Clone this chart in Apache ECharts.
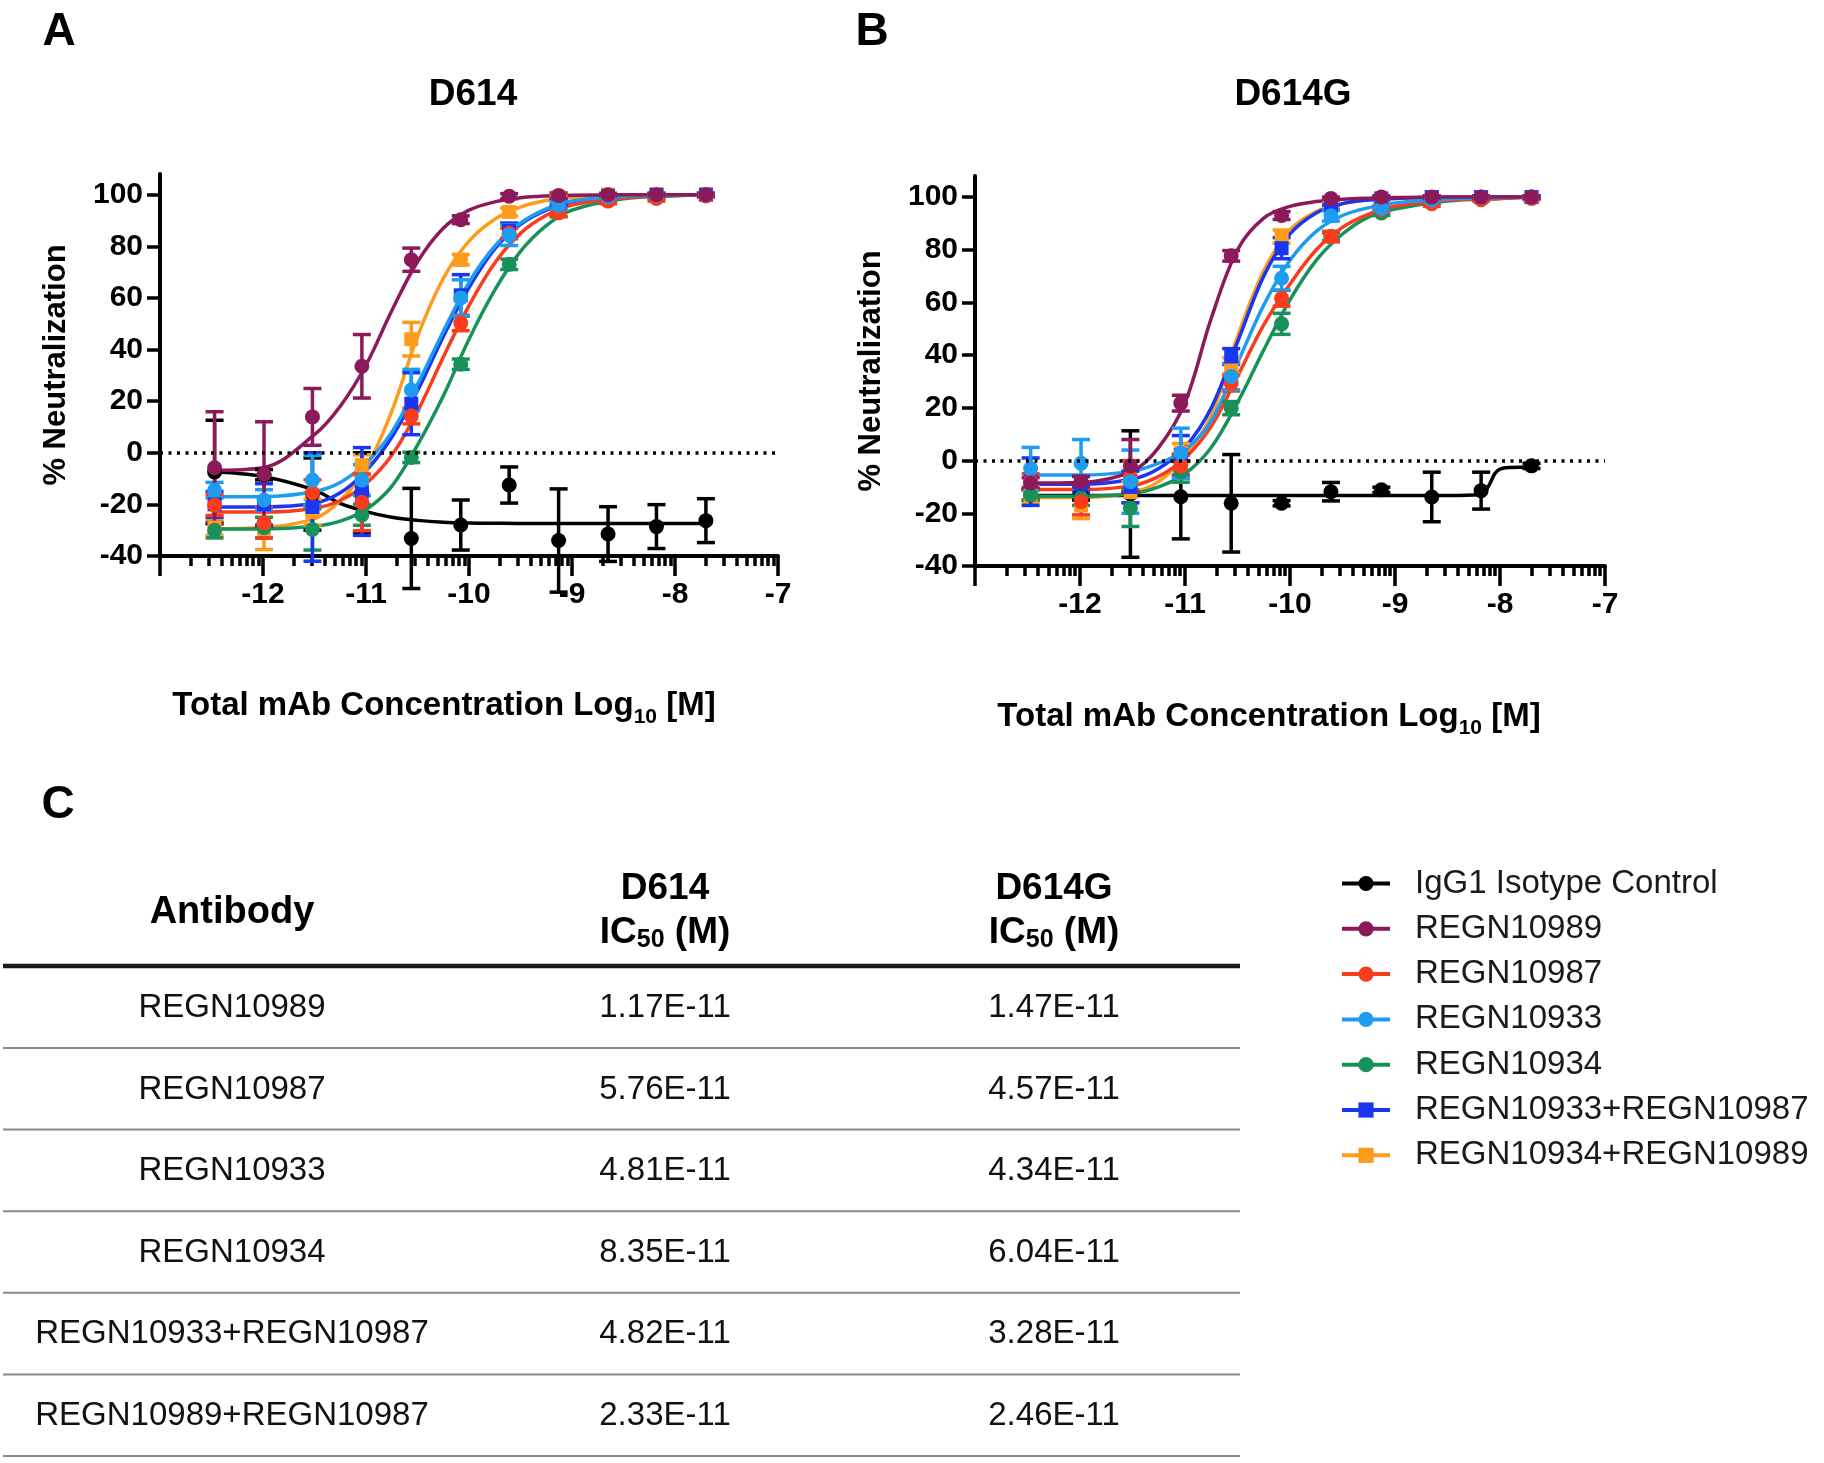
<!DOCTYPE html>
<html><head><meta charset="utf-8">
<script src="https://cdn.jsdelivr.net/npm/echarts@6/dist/echarts.min.js"></script>
<style>html,body{margin:0;padding:0;background:#fff}#c{width:1824px;height:1463px}</style>
</head><body><div id="c"></div>
<script>
const FONT = '"Liberation Sans", Arial, Helvetica, sans-serif';

// ---------- axes ----------
const yTicks = [-40, -20, 0, 20, 40, 60, 80, 100];
const xTickLabels = [-12, -11, -10, -9, -8, -7];
const xMajorTicks = [-13, -12, -11, -10, -9, -8, -7];

// ---------- data ----------
const logConc = [-12.47, -11.99, -11.52, -11.04, -10.56, -10.08, -9.61, -9.13, -8.65, -8.18, -7.70];
const fitX = [-12.5, -12, -11.5, -11.25, -11, -10.75, -10.5, -10.25, -10, -9.75, -9.5, -9.25, -9, -8.5, -8, -7.7];
const fitX_IgG1_D614G = [-12.5, -10, -8.4, -8.25, -8.15, -8.1, -8.05, -8.0, -7.9, -7.7];

const antibodies = ['IgG1 Isotype Control', 'REGN10989', 'REGN10987', 'REGN10933', 'REGN10934', 'REGN10933+REGN10987', 'REGN10934+REGN10989'];
const colors = ['#000000', '#8c1a5b', '#fa3c1c', '#1e9cf0', '#18915a', '#1a36f2', '#fd9b1a'];
const markers = ['circle', 'circle', 'circle', 'circle', 'circle', 'rect', 'rect'];
const drawOrder = [0, 6, 4, 5, 2, 3, 1];

// D614 (panel A): mean, SD, fitted curve
const d614_mean = [
  [-7.4, -8.5, -16, -15.5, -33.2, -28, -12.5, -34, -31.5, -28.6, -26.3],
  [-5.8, -8.3, 13.9, 33.5, 74.8, 90.3, 99.4, 99.7, 100, 100, 100],
  [-20.3, -27.1, -15.5, -19.2, 14.2, 50.3, 85, 93, 97.5, 98.5, 99.5],
  [-14.5, -18.3, -10.6, -10.6, 24.3, 60, 84.3, 95.9, 99.3, 99.8, 100],
  [-30, -29, -29.7, -24.1, -1.8, 34.3, 73, 93, 98, 99, 100],
  [-20, -20, -21, -15, 19, 61, 86, 97, 99.5, 100, 100],
  [-29, -29.5, -23, -4.8, 44, 74.8, 93.3, 99, 100, 100, 100]
];
const d614_sd = [
  [20, 2, 14, 15.5, 19.4, 9.7, 7, 20, 10.6, 8.5, 8.5],
  [21.7, 20.3, 11, 12.3, 4.5, 1.5, 1, 1, 0.5, 0.5, 0.5],
  [4, 6, 5, 11, 3, 3, 2, 1.5, 1, 1, 0.5],
  [3, 4, 9.5, 6, 8, 7, 4, 1.5, 0.5, 0.5, 0.5],
  [3, 4, 8, 4, 2, 2, 2, 1.5, 1, 0.5, 0.5],
  [5, 8, 21, 17, 12, 8, 3, 1, 0.5, 0.5, 0.5],
  [3, 8, 5, 4, 6.5, 2, 1.5, 0.5, 0.5, 0.5, 0.5]
];
const d614_fit = [
  [-7.4, -9.2, -14.5, -19.6, -22.8, -25, -26.2, -26.9, -27.2, -27.3, -27.4, -27.4, -27.4, -27.4, -27.4, -27.4],
  [-6.8, -5.8, 7, 18, 34, 55, 74, 87, 94, 97.2, 98.8, 99.5, 99.8, 100, 100, 100],
  [-23, -23, -21.5, -18.5, -12, -1, 16, 37, 57, 73.5, 85, 92, 96, 98.8, 99.7, 100],
  [-17, -17, -15, -11.5, -4, 8, 26.5, 47, 66, 80, 89, 94.5, 97.5, 99.4, 99.9, 100],
  [-29.5, -29.5, -28.5, -26.5, -22, -13, 3, 22, 44, 63, 78, 88, 94, 98.4, 99.6, 100],
  [-21, -21, -19.5, -15.5, -7, 6, 24, 45, 64, 79, 88.5, 94, 97.2, 99.3, 99.9, 100],
  [-29.5, -29, -25.5, -18.5, -6, 16, 45, 67.5, 82, 90.5, 95.2, 97.7, 98.9, 99.7, 100, 100]
];

// D614G (panel B)
const d614g_mean = [
  [-13, -13, -12.7, -13.7, -16.2, -16.2, -11.8, -11.1, -13.8, -11.4, -2],
  [-8.5, -8, -2, 21.8, 77.7, 93, 99.5, 100, 100, 100, 100],
  [-8, -15.6, -6, -2, 29.4, 61.6, 85, 95.2, 97.5, 99, 99.5],
  [-3, -1, -8, 2.8, 31.9, 69.2, 92.9, 95.8, 99, 100, 100],
  [-13, -14, -18, -4.2, 19.9, 51.9, 85, 94, 98, 99.5, 100],
  [-8, -9, -10, 2, 39.5, 80.6, 96, 99.5, 100, 100, 100],
  [-13, -17, -12, 3, 36, 85, 97, 99, 100, 100, 100]
];
const d614g_sd = [
  [2, 2, 24, 16, 18.5, 1, 3.5, 1, 9.4, 7, 1],
  [2, 2, 10, 3, 2, 1.5, 0.5, 0.5, 0.5, 0.5, 0.5],
  [3, 5, 6, 4, 3, 3, 2, 1, 1, 0.5, 0.5],
  [8, 9, 12, 9.5, 5, 4.5, 2, 1, 0.5, 0.5, 0.5],
  [2, 3, 7, 4, 2.5, 4, 1.5, 1, 0.5, 0.5, 0.5],
  [9, 3, 6, 7.5, 3, 4, 1, 0.5, 0.5, 0.5, 0.5],
  [3, 5, 4, 3.5, 3, 2.5, 1, 0.5, 0.5, 0.5, 0.5]
];
const d614g_fit = [
  [-13.2, -13.2, -13.2, -13.1, -12, -9, -5, -3.2, -2.6, -2.4],
  [-8.5, -8.3, -4, 5, 22, 54, 80, 92, 96.5, 98.3, 99.2, 99.6, 99.8, 100, 100, 100],
  [-11, -11, -9.5, -6, 1, 13, 32, 51.5, 67, 80, 88.5, 93.5, 96.5, 98.8, 99.5, 100],
  [-5.5, -5.5, -4, -1, 4, 15, 37, 59, 76, 87, 93, 96, 97.8, 99.3, 99.8, 100],
  [-13.5, -13.5, -12.5, -10, -5, 5, 22, 42, 61, 76, 86, 92.5, 95.5, 98.5, 99.5, 100],
  [-9, -9, -7, -3, 5, 20, 45, 70, 86, 94, 97.5, 98.9, 99.5, 99.9, 100, 100],
  [-14, -14, -12, -8, 2, 17, 47, 72, 87.5, 94.5, 97.5, 98.9, 99.5, 99.9, 100, 100]
];
const d614g_fitX = [fitX_IgG1_D614G, fitX, fitX, fitX, fitX, fitX, fitX];

// ---------- table (panel C) ----------
const tableAntibodies = ['REGN10989', 'REGN10987', 'REGN10933', 'REGN10934', 'REGN10933+REGN10987', 'REGN10989+REGN10987'];
const ic50_D614 = ['1.17E-11', '5.76E-11', '4.81E-11', '8.35E-11', '4.82E-11', '2.33E-11'];
const ic50_D614G = ['1.47E-11', '4.57E-11', '4.34E-11', '6.04E-11', '3.28E-11', '2.46E-11'];

// minor ticks of the log10 concentration axis (2..9 x 10^n)
const xMinorTicks = [];
for (let d = -13; d < -7; d++) for (let k = 2; k <= 9; k++) xMinorTicks.push(d + Math.log10(k));

// ---------- build ----------
const series = [];
function errRender(col) {
  return function (params, api) {
    const x = api.value(0), m = api.value(1), e = api.value(2);
    const pt = api.coord([x, m + e]), pb = api.coord([x, m - e]);
    const hw = 9, st = { stroke: col, lineWidth: 3.5 };
    return { type: 'group', children: [
      { type: 'line', shape: { x1: pt[0], y1: pt[1], x2: pb[0], y2: pb[1] }, style: st },
      { type: 'line', shape: { x1: pt[0] - hw, y1: pt[1], x2: pt[0] + hw, y2: pt[1] }, style: st },
      { type: 'line', shape: { x1: pb[0] - hw, y1: pb[1], x2: pb[0] + hw, y2: pb[1] }, style: st }
    ]};
  };
}
function addPanel(xi, yi, means, sds, fits, fitXs) {
  drawOrder.forEach(a => {
    const name = antibodies[a], col = colors[a], sym = markers[a];
    const fx = fitXs[a];
    const s = {
      name, type: 'line', xAxisIndex: xi, yAxisIndex: yi,
      data: fx.map((x, i) => [x, fits[a][i]]),
      smooth: 0.35, showSymbol: false, symbol: sym, symbolSize: 14,
      lineStyle: { color: col, width: 3.5 }, itemStyle: { color: col },
      z: 2, silent: true
    };
    if (a === 0) {
      s.markLine = {
        silent: true, symbol: ['none', 'none'], label: { show: false },
        lineStyle: { color: '#000', width: 3.5, type: [3, 5.5] },
        data: [{ yAxis: 0 }]
      };
    }
    series.push(s);
    series.push({
      name, type: 'custom', xAxisIndex: xi, yAxisIndex: yi, clip: false,
      data: logConc.map((x, i) => [x, means[a][i], sds[a][i]]),
      renderItem: errRender(col), z: 3, silent: true
    });
    series.push({
      name, type: 'scatter', xAxisIndex: xi, yAxisIndex: yi,
      data: logConc.map((x, i) => [x, means[a][i]]),
      symbol: sym, symbolSize: sym === 'rect' ? 14 : 15,
      itemStyle: { color: col, opacity: 1 }, z: 4, silent: true
    });
  });
}
addPanel(0, 0, d614_mean, d614_sd, d614_fit, antibodies.map(() => fitX));
addPanel(2, 1, d614g_mean, d614g_sd, d614g_fit, d614g_fitX);

const labStyle = { fontSize: 30, fontWeight: 'bold', color: '#000', fontFamily: FONT };
function mkX(grid, minor) {
  return {
    gridIndex: grid, type: 'value', min: -13, max: -7, interval: 1, position: 'bottom', offset: 0,
    axisLine: { show: !minor, onZero: false, lineStyle: { color: '#000', width: 4 } },
    axisTick: { show: true, length: minor ? 10 : 20, lineStyle: { color: '#000', width: 3.5 }, customValues: minor ? xMinorTicks : xMajorTicks },
    axisLabel: minor ? { show: false } : Object.assign({ customValues: xTickLabels, margin: 24 }, labStyle),
    splitLine: { show: false }
  };
}
function mkY(grid) {
  return {
    gridIndex: grid, type: 'value', min: -40, max: 108, interval: 20,
    axisLine: { show: true, onZero: false, lineStyle: { color: '#000', width: 4 } },
    axisTick: { show: true, length: 13, lineStyle: { color: '#000', width: 3.5 }, customValues: yTicks },
    axisLabel: Object.assign({ customValues: yTicks, margin: 17 }, labStyle),
    splitLine: { show: false },
    name: '% Neutralization', nameLocation: 'middle', nameGap: 88,
    nameTextStyle: { fontSize: 31, fontWeight: 'bold', color: '#000', fontFamily: FONT }
  };
}

const graphic = [];
function txt(x, y, text, size, bold, extra) {
  const st = Object.assign({ text, fontSize: size, fontWeight: bold ? 'bold' : 'normal', fontFamily: FONT, fill: '#000', align: 'center', verticalAlign: 'middle' }, extra || {});
  graphic.push({ type: 'text', x, y, style: st, silent: true });
}
txt(59, 32, 'A', 46, true);
txt(872, 32, 'B', 46, true);
txt(58, 805, 'C', 46, true);
txt(473, 95, 'D614', 37, true);
txt(1293, 95, 'D614G', 37, true);
const subRich = { sub: { fontSize: 21, fontWeight: 'bold', fontFamily: FONT, fill: '#000', verticalAlign: 'bottom', lineHeight: 21 } };
txt(444, 706, 'Total mAb Concentration Log{sub|10} [M]', 33, true, { rich: subRich, lineHeight: 44 });
txt(1269, 717, 'Total mAb Concentration Log{sub|10} [M]', 33, true, { rich: subRich, lineHeight: 44 });

// table
const colX = [232, 665, 1054];
txt(colX[0], 913, 'Antibody', 38, true);
txt(colX[1], 889, 'D614', 37, true);
txt(colX[2], 889, 'D614G', 37, true);
const icRich = { sub: { fontSize: 25, fontWeight: 'bold', fontFamily: FONT, fill: '#000', verticalAlign: 'bottom', lineHeight: 25 } };
txt(colX[1], 933, 'IC{sub|50} (M)', 37, true, { rich: icRich, lineHeight: 40 });
txt(colX[2], 933, 'IC{sub|50} (M)', 37, true, { rich: icRich, lineHeight: 40 });
graphic.push({ type: 'line', shape: { x1: 3, y1: 966, x2: 1240, y2: 966 }, style: { stroke: '#1a1a1a', lineWidth: 4.5 }, silent: true });
tableAntibodies.forEach((ab, i) => {
  const y = 1008 + i * 81.6;
  txt(colX[0], y, ab, 33, false, { fill: '#111' });
  txt(colX[1], y, ic50_D614[i], 33, false, { fill: '#111' });
  txt(colX[2], y, ic50_D614G[i], 33, false, { fill: '#111' });
  const ly = 1048 + i * 81.6;
  graphic.push({ type: 'line', shape: { x1: 3, y1: ly, x2: 1240, y2: ly }, style: { stroke: '#8a8a8a', lineWidth: 2 }, silent: true });
});

const chart = echarts.init(document.getElementById('c'), null, { renderer: 'canvas' });
chart.setOption({
  animation: false,
  backgroundColor: '#fff',
  grid: [
    { left: 160, top: 174, width: 618, height: 382 },
    { left: 975, top: 176, width: 630, height: 390 }
  ],
  xAxis: [mkX(0, false), mkX(0, true), mkX(1, false), mkX(1, true)],
  yAxis: [mkY(0), mkY(1)],
  legend: {
    orient: 'vertical', left: 1335, top: 862, itemWidth: 48, itemHeight: 19, itemGap: 12.3,
    data: antibodies, selectedMode: false,
    lineStyle: { width: 4 },
    textStyle: { fontSize: 33, fontFamily: FONT, color: '#1a1a1a', padding: [0, 0, 0, 20] }
  },
  graphic,
  series
});
</script></body></html>
